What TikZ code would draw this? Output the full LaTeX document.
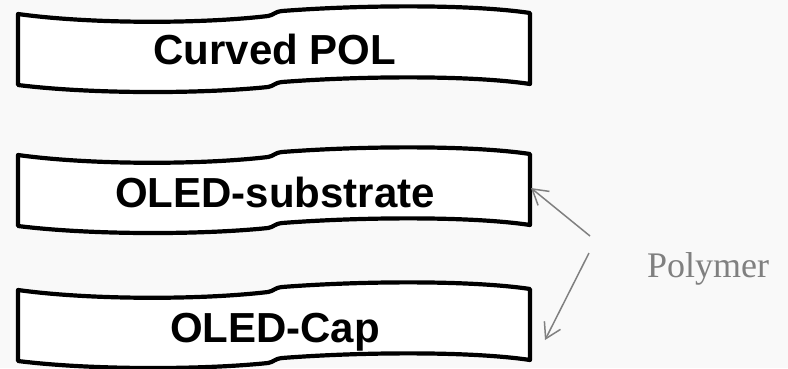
\documentclass[tikz,border=0pt]{standalone}
\usepackage{fontspec}
\setmainfont{Liberation Serif}
\newfontfamily\labelfont{Liberation Sans}
\usetikzlibrary{arrows.meta}

\definecolor{pagebg}{RGB}{249,249,249}
\definecolor{notegray}{RGB}{128,128,128}

\tikzset{
  layer/.style={draw=black, fill=white, line width=4.2pt, line join=round},
  layertext/.style={anchor=base, inner sep=0pt,
    font=\labelfont\bfseries\fontsize{42}{50}\selectfont},
  notetext/.style={anchor=base west, inner sep=0pt, text=notegray,
    font=\fontsize{36}{42}\selectfont},
  pointer/.style={draw=notegray, line width=1.5pt,
    -{Straight Barb[length=15pt,width=18pt,line width=1.5pt]}},
}

% one curved layer, top-left corner lowered by #1
\newcommand{\curvedlayer}[1]{%
  \begin{scope}[yshift=-#1pt]
    \draw[layer] (18,14)
      .. controls (90,24) and (200,24) .. (268,16)
      .. controls (274,15) and (274,12) .. (282,11)
      .. controls (360,5) and (470,4) .. (530,13)
      -- (530,84)
      .. controls (470,75) and (360,76) .. (282,82)
      .. controls (274,83) and (274,86) .. (268,87)
      .. controls (200,94) and (90,94) .. (18,85)
      -- cycle;
  \end{scope}}

\begin{document}
\begin{tikzpicture}[x=1pt, y=-1pt]
  \fill[pagebg] (0,0) rectangle (788,368);
  \useasboundingbox (0,0) rectangle (788,368);

  \curvedlayer{0}
  \curvedlayer{141}
  \curvedlayer{276}

  \node[layertext] (pol)  at (275,64)  {Curved POL};
  \node[layertext] (sub)  at (275,207) {OLED-substrate};
  \node[layertext] (cap)  at (275,342) {OLED-Cap};

  \node[notetext] (poly) at (647,277) {Polymer};

  \coordinate (tailA) at (590,236);
  \coordinate (tipA)  at (531,188);
  \coordinate (tailB) at (589,253);
  \coordinate (tipB)  at (545,340);

  \draw[pointer] (tailA) -- (tipA);
  \draw[pointer] (tailB) -- (tipB);
\end{tikzpicture}
\end{document}
